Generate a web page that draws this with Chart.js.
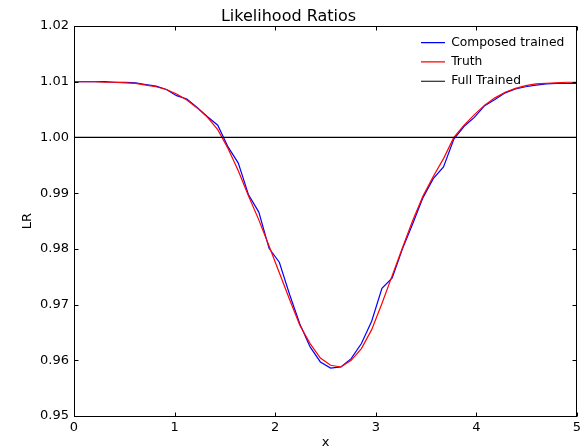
<!DOCTYPE html>
<html>
<head>
<meta charset="utf-8">
<script src="https://cdn.jsdelivr.net/npm/chart.js@4/dist/chart.umd.min.js"></script>
<style>
  html, body { margin: 0; padding: 0; background: #fff; }
  canvas { display: block; }
</style>
</head>
<body>
<canvas id="c" width="586" height="448"></canvas>
<script>
// ---- data ----
const xValues = [0, 0.102, 0.204, 0.306, 0.408, 0.510, 0.612, 0.714, 0.816, 0.918,
  1.020, 1.122, 1.224, 1.327, 1.429, 1.531, 1.633, 1.735, 1.837, 1.939,
  2.041, 2.143, 2.245, 2.347, 2.449, 2.551, 2.653, 2.755, 2.857, 2.959,
  3.061, 3.163, 3.265, 3.367, 3.469, 3.571, 3.673, 3.776, 3.878, 3.980,
  4.082, 4.184, 4.286, 4.388, 4.490, 4.592, 4.694, 4.796, 4.898, 5.0];

const composedTrained = [1.0100, 1.0100, 1.0100, 1.0100, 1.0099, 1.0099, 1.0098, 1.0095, 1.0092, 1.0086,
  1.0075, 1.0069, 1.0054, 1.0037, 1.0022, 0.9983, 0.9954, 0.9897, 0.9866, 0.9801,
  0.9776, 0.9718, 0.9665, 0.9624, 0.9597, 0.9586, 0.9588, 0.9603, 0.9630, 0.9670,
  0.9729, 0.9748, 0.9800, 0.9845, 0.9892, 0.9926, 0.9947, 0.9997, 1.0020, 1.0036,
  1.0057, 1.0068, 1.0080, 1.0087, 1.0091, 1.0094, 1.0096, 1.0097, 1.0097, 1.0097];

const truth = [1.0100, 1.0100, 1.0100, 1.0099, 1.0099, 1.0098, 1.0097, 1.0094, 1.0091, 1.0086,
  1.0078, 1.0067, 1.0053, 1.0036, 1.0014, 0.9980, 0.9940, 0.9895, 0.9852, 0.9805,
  0.9757, 0.9709, 0.9663, 0.9630, 0.9604, 0.9591, 0.9588, 0.9600, 0.9621, 0.9655,
  0.9702, 0.9752, 0.9802, 0.9851, 0.9895, 0.9930, 0.9962, 1.0000, 1.0022, 1.0041,
  1.0058, 1.0071, 1.0081, 1.0088, 1.0093, 1.0096, 1.0097, 1.0098, 1.0099, 1.0099];

const fullTrainedX = [0, 5];
const fullTrained = [1.0, 1.0];

const seriesNames = ['Composed trained', 'Truth', 'Full Trained'];
const xTicks = [0, 1, 2, 3, 4, 5];
const yTicks = [0.95, 0.96, 0.97, 0.98, 0.99, 1.00, 1.01, 1.02];
const yTickLabels = ['0.95', '0.96', '0.97', '0.98', '0.99', '1.00', '1.01', '1.02'];

const FONT = 'DejaVu Sans';

const toPoints = (xs, ys) => xs.map((x, i) => ({x: x, y: ys[i]}));

const framePlugin = {
  id: 'frameTicks',
  afterLayout(chart) {
    const lg = chart.legend;
    if (lg) {
      const w = lg.width, h = lg.height;
      lg.left = 414; lg.top = 29.5;
      lg.right = lg.left + w; lg.bottom = lg.top + h;
    }
  },
  afterDatasetsDraw(chart) {
    const {ctx, chartArea: a, scales} = chart;
    const xs = scales.x, ys = scales.y;
    ctx.save();
    ctx.strokeStyle = '#000';
    ctx.lineWidth = 1;
    const L = a.left + 0.5, R = a.right - 0.5, T = a.top + 0.5, B = a.bottom + 0.5;
    ctx.strokeRect(L, T, R - L, B - T);
    const tl = 4;
    ctx.beginPath();
    xs.ticks.forEach(t => {
      const px = Math.round(xs.getPixelForValue(t.value)) + 0.5;
      ctx.moveTo(px, B); ctx.lineTo(px, B - tl);
      ctx.moveTo(px, T); ctx.lineTo(px, T + tl);
    });
    ys.ticks.forEach(t => {
      const py = Math.round(ys.getPixelForValue(t.value)) + 0.5;
      ctx.moveTo(L, py); ctx.lineTo(L + tl, py);
      ctx.moveTo(R, py); ctx.lineTo(R - tl, py);
    });
    ctx.stroke();
    ctx.restore();
  }
};

new Chart(document.getElementById('c'), {
  type: 'line',
  data: {
    datasets: [
      { label: seriesNames[0], data: toPoints(xValues, composedTrained), borderColor: '#0000ff', backgroundColor: '#0000ff', borderWidth: 1.2, pointRadius: 0, tension: 0, order: 3 },
      { label: seriesNames[1], data: toPoints(xValues, truth), borderColor: '#ff0000', backgroundColor: '#ff0000', borderWidth: 1.2, pointRadius: 0, tension: 0, order: 2 },
      { label: seriesNames[2], data: toPoints(fullTrainedX, fullTrained), borderColor: '#000000', backgroundColor: '#000000', borderWidth: 1.2, pointRadius: 0, tension: 0, order: 1 }
    ]
  },
  options: {
    responsive: false,
    animation: false,
    devicePixelRatio: 1,
    layout: { padding: { left: 0, right: 9, top: 0, bottom: 0 } },
    plugins: {
      title: {
        display: true, text: 'Likelihood Ratios', color: '#000',
        font: { family: FONT, size: 16, weight: 'normal', lineHeight: 1.2 },
        padding: { top: 6.8, bottom: 0 }
      },
      legend: {
        position: 'chartArea', align: 'start',
        labels: {
          usePointStyle: true, pointStyle: 'line', pointStyleWidth: 24,
          font: { family: FONT, size: 12.3 }, color: '#000', padding: 7,
          sort: (a, b) => a.datasetIndex - b.datasetIndex
        }
      },
      tooltip: { enabled: false }
    },
    scales: {
      x: {
        type: 'linear', min: 0, max: 5,
        afterBuildTicks: s => { s.ticks = xTicks.map(v => ({ value: v })); },
        afterFit: s => { s.height = 32; },
        grid: { display: false, drawTicks: false },
        border: { display: false },
        ticks: { color: '#000', font: { family: FONT, size: 13 }, padding: 4, maxRotation: 0, autoSkip: false,
                 callback: v => String(v) },
        title: { display: true, text: 'x', color: '#000', font: { family: FONT, size: 13 }, padding: { top: 0, bottom: -2.3 } }
      },
      y: {
        type: 'linear', min: 0.95, max: 1.02,
        afterBuildTicks: s => { s.ticks = yTicks.map(v => ({ value: v })); },
        afterFit: s => { s.width = 74; },
        grid: { display: false, drawTicks: false },
        border: { display: false },
        ticks: { color: '#000', font: { family: FONT, size: 13 }, padding: 5, autoSkip: false,
                 callback: (v) => { const i = yTicks.findIndex(t => Math.abs(t - v) < 1e-9); return i >= 0 ? yTickLabels[i] : ''; } },
        title: { display: true, text: 'LR', color: '#000', font: { family: FONT, size: 13 }, padding: { top: 20, bottom: 0 } }
      }
    }
  },
  plugins: [framePlugin]
});
</script>
</body>
</html>
